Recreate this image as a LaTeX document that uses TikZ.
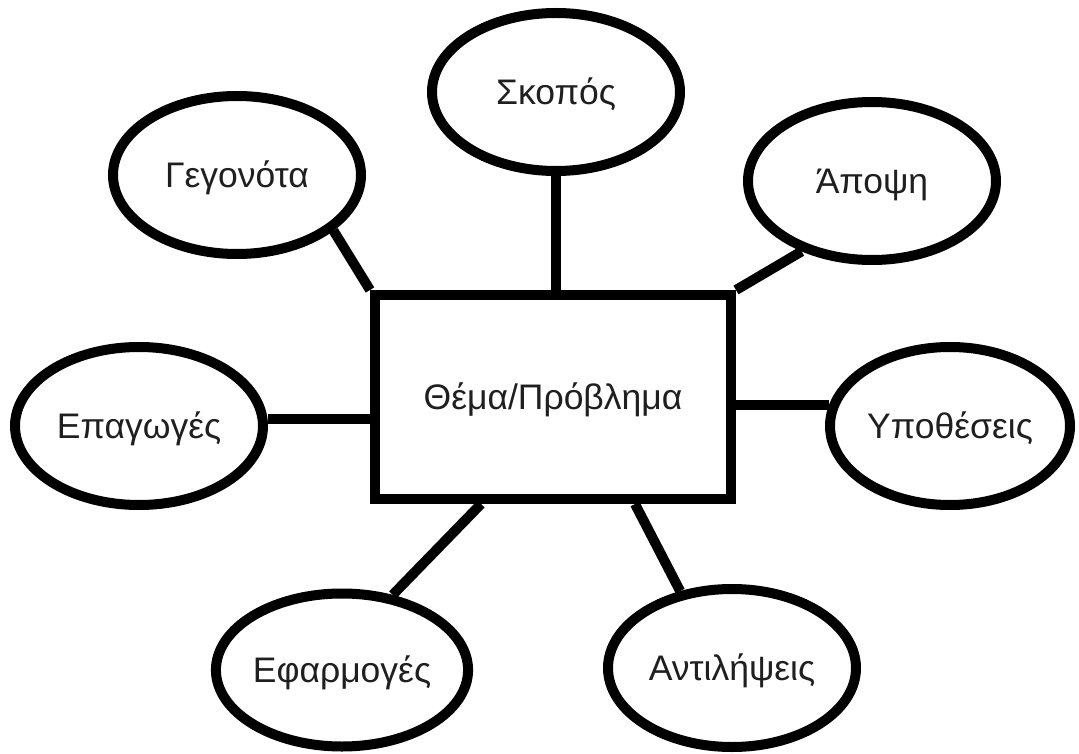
\documentclass[tikz,border=0pt]{standalone}
\usepackage{fontspec}
\setmainfont{Liberation Sans}
\usetikzlibrary{shapes.geometric}
\begin{document}
\begin{tikzpicture}[x=1pt,y=-1pt,
  label text/.style={font=\fontsize{35.5}{40}\selectfont,text height=25pt,text depth=0pt,text=black!88},
  bubble/.style={ellipse,draw,line width=10pt,minimum width=248pt,minimum height=158pt,inner sep=0pt,label text},
  topic/.style={rectangle,draw,line width=10pt,minimum width=356pt,minimum height=204pt,inner sep=0pt,label text},
  link/.style={line width=10pt}]
\useasboundingbox[fill=white] (0,0) rectangle (1079,754);
\node[topic] (rect) at (553,397) {Θέμα/Πρόβλημα};
\node[bubble] (sko) at (556,92) {Σκοπός};
\node[bubble] (geg) at (237,175) {Γεγονότα};
\node[bubble] (apo) at (872,181) {Άποψη};
\node[bubble] (epa) at (139,426) {Επαγωγές};
\node[bubble,minimum width=240pt] (hyp) at (950,426) {Υποθέσεις};
\node[bubble,minimum height=153pt] (efa) at (342,670) {Εφαρμογές};
\node[bubble] (ant) at (732,668) {Αντιλήψεις};
\draw[link] (sko.south) -- (sko.south |- rect.north);
\draw[link] (geg.-30) -- (rect.north west);
\draw[link] (apo.-135) -- (rect.north east);
\draw[link] (epa.3) -- (rect.west |- epa.3);
\draw[link] (hyp.170) -- (rect.east |- hyp.170);
\draw[link] (efa.56) -- ([xshift=111pt]rect.south west);
\draw[link] (ant.124) -- ([xshift=-101pt]rect.south east);
\end{tikzpicture}
\end{document}
